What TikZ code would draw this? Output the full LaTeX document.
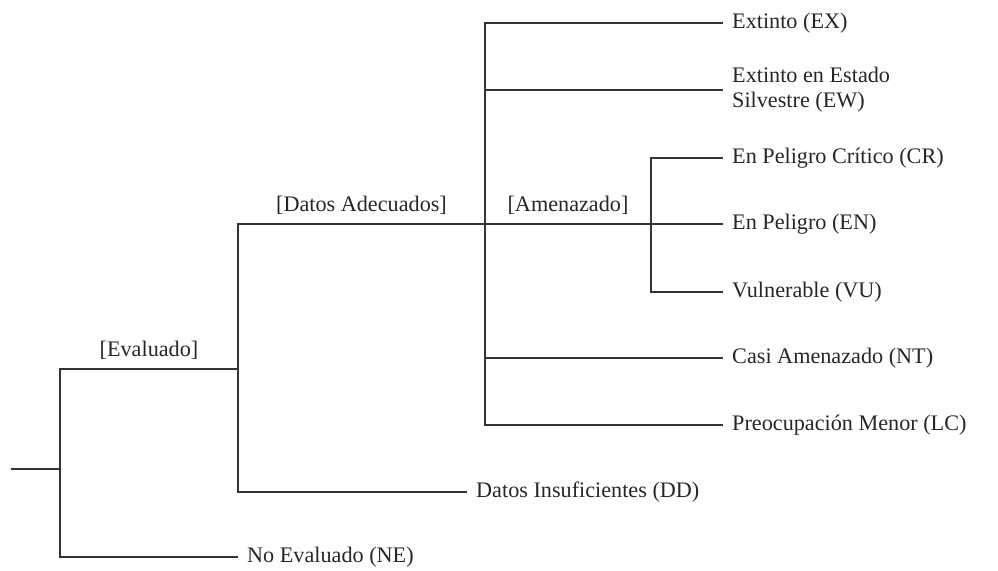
\documentclass[tikz,border=0pt]{standalone}
\usepackage{fontspec}
\setmainfont{Liberation Serif}
\usetikzlibrary{positioning}

\begin{document}
\begin{tikzpicture}[x=0.5pt,y=-0.5pt,line width=1.2pt,draw=black!80,text=black!85,
    every node/.style={font=\fontsize{11.1}{12.5}\selectfont},
    leaf/.style={anchor=west,inner sep=4pt,align=left},
    tag/.style={above=1pt}]
  \useasboundingbox (0,0) rectangle (998,570);
  \coordinate (r) at (11,469);
  \coordinate (j1) at (60,469);
  \coordinate (j2) at (238,369);
  \coordinate (j3) at (485,224);
  \coordinate (j4) at (651,224);

  \node[leaf] (ne) at (238,557) {No Evaluado (NE)};
  \node[leaf] (dd) at (467,492) {Datos Insuficientes (DD)};
  \node[leaf] (ex) at (723,23) {Extinto (EX)};
  \node[leaf] (ew) at (723,90) {Extinto en Estado\\Silvestre (EW)};
  \node[leaf] (cr) at (723,158) {En Peligro Crítico (CR)};
  \node[leaf] (en) at (723,224) {En Peligro (EN)};
  \node[leaf] (vu) at (723,292) {Vulnerable (VU)};
  \node[leaf] (nt) at (723,358) {Casi Amenazado (NT)};
  \node[leaf] (lc) at (723,425) {Preocupación Menor (LC)};

  \draw (r) -- (j1);
  \draw (j1) |- (j2) node[tag,pos=0.75] {[Evaluado]};
  \draw (j1) |- (ne.west);
  \draw (j2) |- (j3) node[tag,pos=0.75] {[Datos Adecuados]};
  \draw (j2) |- (dd.west);
  \draw (j3) |- (ex.west);
  \draw (j3) |- (ew.west);
  \draw (j3) |- (nt.west);
  \draw (j3) |- (lc.west);
  \draw (j3) -- (j4) node[tag,midway] {[Amenazado]};
  \draw (j4) |- (cr.west);
  \draw (j4) -- (en.west);
  \draw (j4) |- (vu.west);
\end{tikzpicture}
\end{document}
